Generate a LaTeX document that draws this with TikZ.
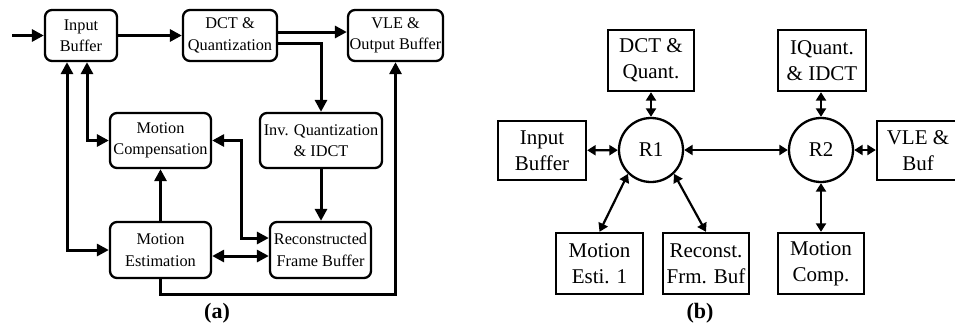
\documentclass[tikz,border=0pt]{standalone}
\usepackage{fontspec}
\setmainfont{Liberation Serif}
\usetikzlibrary{arrows.meta}
\begin{document}
\begin{tikzpicture}[x=1pt,y=-1pt,
  lbox/.style={draw, rounded corners=7pt, line width=2.3pt, align=center, inner sep=0pt,
    font=\fontsize{16.3}{21.5}\selectfont},
  rbox/.style={draw, line width=2.3pt, align=center, inner sep=0pt,
    font=\fontsize{21}{26}\selectfont},
  router/.style={draw, circle, line width=2.3pt, minimum size=64pt, inner sep=0pt,
    font=\fontsize{21}{26}\selectfont},
  flow/.style={line width=3pt, -{Triangle[length=12pt,width=12pt]}},
  both/.style={line width=3pt, {Triangle[length=12pt,width=12pt]}-{Triangle[length=12pt,width=12pt]}},
  link/.style={line width=2.2pt, {Triangle[length=8.5pt,width=10pt]}-{Triangle[length=8.5pt,width=10pt]}},
  caption/.style={font=\fontsize{22}{26}\selectfont\bfseries}
]
\clip (0,0) rectangle (955,327);

% ---------- (a) encoder data flow ----------
\node[lbox, minimum width=72pt, minimum height=51pt] (ib) at (81,35.5) {Input\\Buffer};
\node[lbox, minimum width=94pt, minimum height=51pt] (dct) at (230,35.5) {DCT \&\\Quantization};
\node[lbox, minimum width=95pt, minimum height=51pt] (vle) at (395.5,35.5) {VLE \&\\Output Buffer};
\node[lbox, minimum width=101pt, minimum height=55pt] (mc) at (160.5,140.5) {Motion\\Compensation};
\node[lbox, minimum width=122pt, minimum height=55pt] (iq) at (321,140.5) {Inv. Quantization\\\& IDCT};
\node[lbox, minimum width=101pt, minimum height=56pt] (me) at (160.5,250) {Motion\\Estimation};
\node[lbox, minimum width=101pt, minimum height=56pt] (rfb) at (320.5,250) {Reconstructed\\Frame Buffer};
\coordinate (src) at (12,35.5);

\draw[flow] (src) -- (ib);
\draw[flow] (ib) -- (dct);
\draw[flow] ([yshift=3.5pt]dct.east) -- ([yshift=3.5pt]vle.west);
\draw[flow] ([yshift=-7.5pt]dct.east) -| (iq.north);
\draw[both] ([xshift=-14pt]ib.south) |- (me.west);
\draw[both] ([xshift=6pt]ib.south) |- (mc.west);
\draw[both] (mc.east) -- ++(29,0) |- ([yshift=12pt]rfb.west);
\draw[both] ([yshift=-6pt]me.east) -- ([yshift=-6pt]rfb.west);
\draw[flow] (me.north) -- (mc.south);
\draw[flow] (iq.south) -- (iq.south |- rfb.north);
\draw[flow] (me.south) -- ++(0,15) -| (vle.south);

\node[caption] (capa) at (217,313) {(a)};

% ---------- (b) router based mapping ----------
\node[router] (r1) at (651,150) {R1};
\node[router] (r2) at (821,150) {R2};
\node[rbox, minimum width=86pt, minimum height=61pt] (bdct) at (651,60.5) {DCT \&\\Quant.};
\node[rbox, minimum width=88pt, minimum height=61pt] (biq) at (822,60.5) {IQuant.\\\& IDCT};
\node[rbox, minimum width=88pt, minimum height=59pt] (bib) at (542,150.5) {Input\\Buffer};
\node[rbox, minimum width=82pt, minimum height=59pt] (bvle) at (918,150.5) {VLE \&\\Buf};
\node[rbox, minimum width=87pt, minimum height=61pt] (bme) at (599.5,263.5) {Motion\\Esti. 1};
\node[rbox, minimum width=86pt, minimum height=61pt] (brfb) at (706,263.5) {Reconst.\\Frm. Buf};
\node[rbox, minimum width=86pt, minimum height=61pt] (bmc) at (821,263.5) {Motion\\Comp.};

\draw[link] (bib) -- (r1);
\draw[link] (r1) -- (r2);
\draw[link] (r2) -- (bvle.west |- r2);
\draw[link] (bdct.south) -- (r1.north);
\draw[link] (biq.south -| r2) -- (r2.north);
\draw[link] (r1.226) -- (bme.north);
\draw[link] (r1.314) -- (brfb.north);
\draw[link] (r2.south) -- (bmc.north);

\node[caption] (capb) at (700,313) {(b)};
\end{tikzpicture}
\end{document}
